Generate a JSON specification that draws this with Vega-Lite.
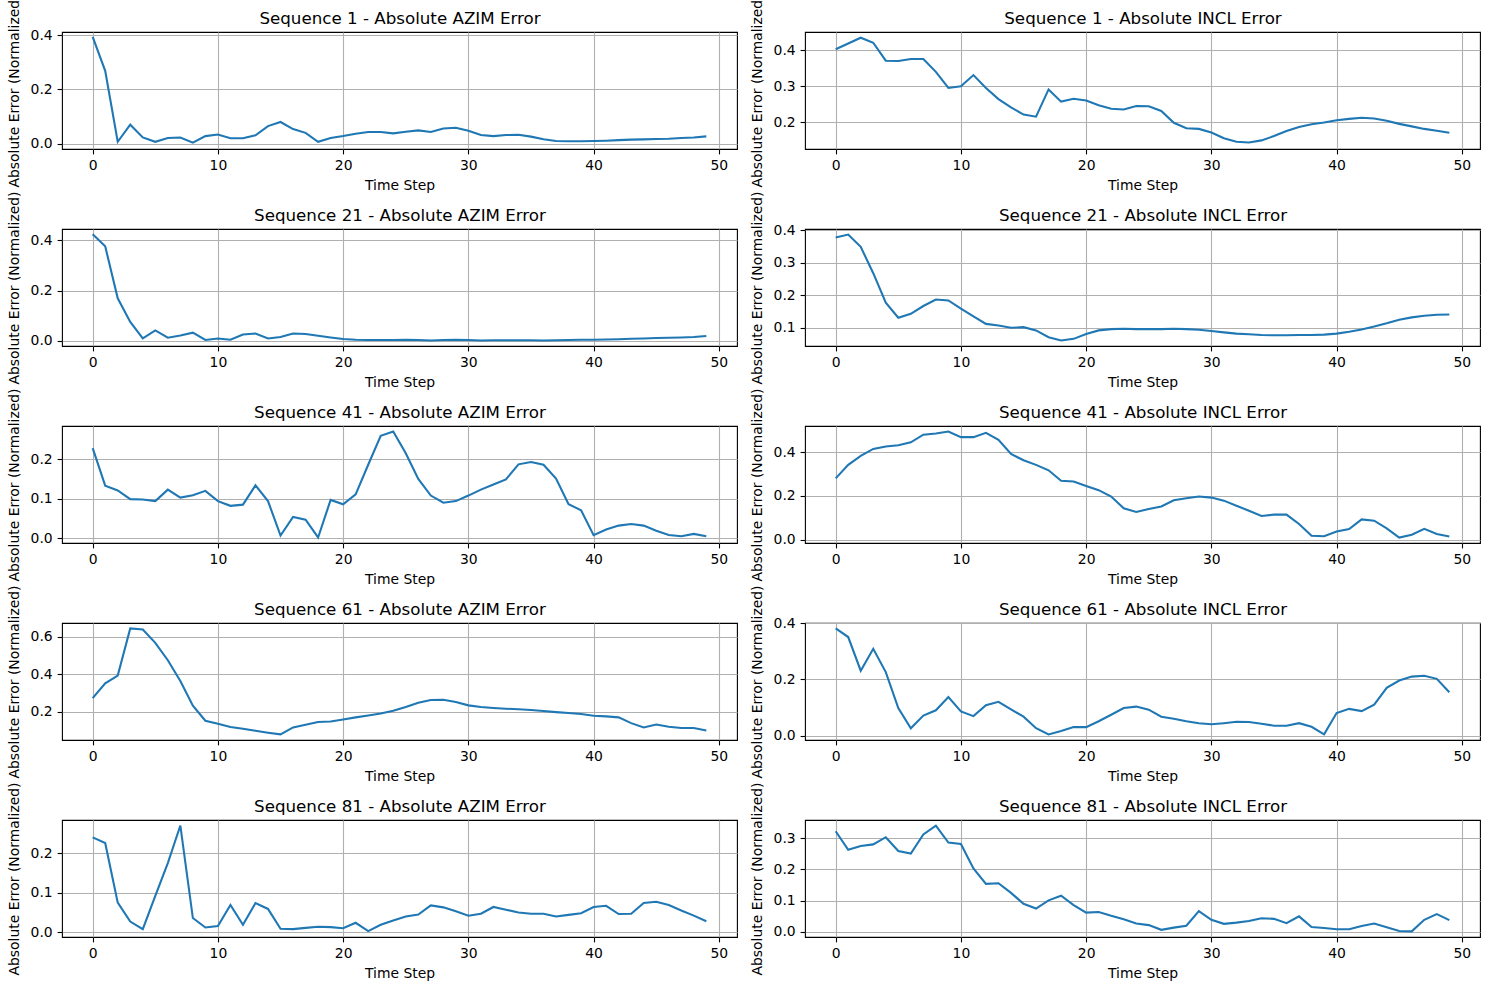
{
"$schema": "https://vega.github.io/schema/vega-lite/v6.json",
"background": "white",
"padding": {"left": 6, "top": -7, "right": 2, "bottom": 2},
"columns": 2,
"spacing": {"row": 80, "column": 68},
"bounds": "flush",
"config": {
 "font": "DejaVu Sans",
 "view": {"stroke": "#000000", "strokeWidth": 1.1},
 "axis": {"labelFont": "DejaVu Sans", "titleFont": "DejaVu Sans", "labelFontSize": 13.9, "titleFontSize": 13.9, "labelColor": "#000000", "titleColor": "#000000", "titleFontWeight": "normal", "tickColor": "#000000", "tickWidth": 1.1, "tickSize": 4.9, "labelPadding": 4.9, "gridColor": "#b0b0b0", "gridWidth": 1.1, "gridOpacity": 1, "domain": false, "minExtent": 0, "labelFlush": false, "labelOverlap": false}
},
"datasets": {
"a1": [{"t":0,"v":0.394},{"t":1,"v":0.269},{"t":2,"v":0.007},{"t":3,"v":0.070},{"t":4,"v":0.023},{"t":5,"v":0.007},{"t":6,"v":0.021},{"t":7,"v":0.023},{"t":8,"v":0.004},{"t":9,"v":0.028},{"t":10,"v":0.034},{"t":11,"v":0.020},{"t":12,"v":0.020},{"t":13,"v":0.031},{"t":14,"v":0.065},{"t":15,"v":0.080},{"t":16,"v":0.054},{"t":17,"v":0.040},{"t":18,"v":0.007},{"t":19,"v":0.021},{"t":20,"v":0.028},{"t":21,"v":0.037},{"t":22,"v":0.043},{"t":23,"v":0.043},{"t":24,"v":0.038},{"t":25,"v":0.044},{"t":26,"v":0.049},{"t":27,"v":0.043},{"t":28,"v":0.056},{"t":29,"v":0.059},{"t":30,"v":0.048},{"t":31,"v":0.032},{"t":32,"v":0.028},{"t":33,"v":0.032},{"t":34,"v":0.033},{"t":35,"v":0.026},{"t":36,"v":0.016},{"t":37,"v":0.010},{"t":38,"v":0.009},{"t":39,"v":0.009},{"t":40,"v":0.010},{"t":41,"v":0.011},{"t":42,"v":0.013},{"t":43,"v":0.015},{"t":44,"v":0.016},{"t":45,"v":0.017},{"t":46,"v":0.018},{"t":47,"v":0.021},{"t":48,"v":0.023},{"t":49,"v":0.027}],
"i1": [{"t":0,"v":0.403},{"t":1,"v":0.419},{"t":2,"v":0.435},{"t":3,"v":0.421},{"t":4,"v":0.371},{"t":5,"v":0.370},{"t":6,"v":0.376},{"t":7,"v":0.376},{"t":8,"v":0.340},{"t":9,"v":0.295},{"t":10,"v":0.300},{"t":11,"v":0.331},{"t":12,"v":0.295},{"t":13,"v":0.264},{"t":14,"v":0.241},{"t":15,"v":0.221},{"t":16,"v":0.215},{"t":17,"v":0.291},{"t":18,"v":0.257},{"t":19,"v":0.265},{"t":20,"v":0.260},{"t":21,"v":0.247},{"t":22,"v":0.237},{"t":23,"v":0.235},{"t":24,"v":0.245},{"t":25,"v":0.244},{"t":26,"v":0.231},{"t":27,"v":0.198},{"t":28,"v":0.183},{"t":29,"v":0.181},{"t":30,"v":0.171},{"t":31,"v":0.155},{"t":32,"v":0.145},{"t":33,"v":0.143},{"t":34,"v":0.149},{"t":35,"v":0.161},{"t":36,"v":0.175},{"t":37,"v":0.186},{"t":38,"v":0.194},{"t":39,"v":0.199},{"t":40,"v":0.205},{"t":41,"v":0.209},{"t":42,"v":0.212},{"t":43,"v":0.210},{"t":44,"v":0.204},{"t":45,"v":0.195},{"t":46,"v":0.188},{"t":47,"v":0.181},{"t":48,"v":0.176},{"t":49,"v":0.170}],
"a21": [{"t":0,"v":0.424},{"t":1,"v":0.376},{"t":2,"v":0.169},{"t":3,"v":0.075},{"t":4,"v":0.009},{"t":5,"v":0.041},{"t":6,"v":0.012},{"t":7,"v":0.021},{"t":8,"v":0.032},{"t":9,"v":0.003},{"t":10,"v":0.009},{"t":11,"v":0.004},{"t":12,"v":0.025},{"t":13,"v":0.029},{"t":14,"v":0.009},{"t":15,"v":0.015},{"t":16,"v":0.029},{"t":17,"v":0.027},{"t":18,"v":0.020},{"t":19,"v":0.013},{"t":20,"v":0.007},{"t":21,"v":0.004},{"t":22,"v":0.003},{"t":23,"v":0.003},{"t":24,"v":0.003},{"t":25,"v":0.004},{"t":26,"v":0.003},{"t":27,"v":0.001},{"t":28,"v":0.003},{"t":29,"v":0.004},{"t":30,"v":0.003},{"t":31,"v":0.001},{"t":32,"v":0.002},{"t":33,"v":0.002},{"t":34,"v":0.002},{"t":35,"v":0.002},{"t":36,"v":0.001},{"t":37,"v":0.002},{"t":38,"v":0.003},{"t":39,"v":0.004},{"t":40,"v":0.004},{"t":41,"v":0.005},{"t":42,"v":0.006},{"t":43,"v":0.008},{"t":44,"v":0.009},{"t":45,"v":0.011},{"t":46,"v":0.012},{"t":47,"v":0.013},{"t":48,"v":0.015},{"t":49,"v":0.019}],
"i21": [{"t":0,"v":0.378},{"t":1,"v":0.387},{"t":2,"v":0.349},{"t":3,"v":0.268},{"t":4,"v":0.177},{"t":5,"v":0.131},{"t":6,"v":0.143},{"t":7,"v":0.167},{"t":8,"v":0.187},{"t":9,"v":0.184},{"t":10,"v":0.159},{"t":11,"v":0.135},{"t":12,"v":0.112},{"t":13,"v":0.107},{"t":14,"v":0.100},{"t":15,"v":0.102},{"t":16,"v":0.092},{"t":17,"v":0.071},{"t":18,"v":0.061},{"t":19,"v":0.066},{"t":20,"v":0.081},{"t":21,"v":0.092},{"t":22,"v":0.096},{"t":23,"v":0.097},{"t":24,"v":0.096},{"t":25,"v":0.096},{"t":26,"v":0.096},{"t":27,"v":0.097},{"t":28,"v":0.096},{"t":29,"v":0.094},{"t":30,"v":0.090},{"t":31,"v":0.086},{"t":32,"v":0.082},{"t":33,"v":0.080},{"t":34,"v":0.078},{"t":35,"v":0.077},{"t":36,"v":0.077},{"t":37,"v":0.078},{"t":38,"v":0.078},{"t":39,"v":0.079},{"t":40,"v":0.082},{"t":41,"v":0.088},{"t":42,"v":0.095},{"t":43,"v":0.104},{"t":44,"v":0.114},{"t":45,"v":0.125},{"t":46,"v":0.132},{"t":47,"v":0.137},{"t":48,"v":0.140},{"t":49,"v":0.141}],
"a41": [{"t":0,"v":0.228},{"t":1,"v":0.133},{"t":2,"v":0.121},{"t":3,"v":0.099},{"t":4,"v":0.098},{"t":5,"v":0.094},{"t":6,"v":0.123},{"t":7,"v":0.103},{"t":8,"v":0.109},{"t":9,"v":0.120},{"t":10,"v":0.094},{"t":11,"v":0.082},{"t":12,"v":0.085},{"t":13,"v":0.134},{"t":14,"v":0.094},{"t":15,"v":0.007},{"t":16,"v":0.054},{"t":17,"v":0.047},{"t":18,"v":0.002},{"t":19,"v":0.097},{"t":20,"v":0.086},{"t":21,"v":0.111},{"t":22,"v":0.186},{"t":23,"v":0.259},{"t":24,"v":0.270},{"t":25,"v":0.215},{"t":26,"v":0.150},{"t":27,"v":0.108},{"t":28,"v":0.090},{"t":29,"v":0.094},{"t":30,"v":0.108},{"t":31,"v":0.123},{"t":32,"v":0.136},{"t":33,"v":0.149},{"t":34,"v":0.187},{"t":35,"v":0.193},{"t":36,"v":0.186},{"t":37,"v":0.151},{"t":38,"v":0.086},{"t":39,"v":0.071},{"t":40,"v":0.008},{"t":41,"v":0.022},{"t":42,"v":0.032},{"t":43,"v":0.036},{"t":44,"v":0.032},{"t":45,"v":0.019},{"t":46,"v":0.008},{"t":47,"v":0.005},{"t":48,"v":0.011},{"t":49,"v":0.005}],
"i41": [{"t":0,"v":0.280},{"t":1,"v":0.342},{"t":2,"v":0.383},{"t":3,"v":0.415},{"t":4,"v":0.426},{"t":5,"v":0.432},{"t":6,"v":0.445},{"t":7,"v":0.480},{"t":8,"v":0.486},{"t":9,"v":0.495},{"t":10,"v":0.469},{"t":11,"v":0.469},{"t":12,"v":0.489},{"t":13,"v":0.457},{"t":14,"v":0.392},{"t":15,"v":0.363},{"t":16,"v":0.342},{"t":17,"v":0.317},{"t":18,"v":0.269},{"t":19,"v":0.266},{"t":20,"v":0.245},{"t":21,"v":0.226},{"t":22,"v":0.197},{"t":23,"v":0.143},{"t":24,"v":0.126},{"t":25,"v":0.140},{"t":26,"v":0.151},{"t":27,"v":0.180},{"t":28,"v":0.189},{"t":29,"v":0.197},{"t":30,"v":0.192},{"t":31,"v":0.178},{"t":32,"v":0.155},{"t":33,"v":0.132},{"t":34,"v":0.108},{"t":35,"v":0.114},{"t":36,"v":0.114},{"t":37,"v":0.071},{"t":38,"v":0.017},{"t":39,"v":0.015},{"t":40,"v":0.037},{"t":41,"v":0.048},{"t":42,"v":0.092},{"t":43,"v":0.086},{"t":44,"v":0.051},{"t":45,"v":0.009},{"t":46,"v":0.022},{"t":47,"v":0.049},{"t":48,"v":0.025},{"t":49,"v":0.014}],
"a61": [{"t":0,"v":0.273},{"t":1,"v":0.352},{"t":2,"v":0.393},{"t":3,"v":0.645},{"t":4,"v":0.639},{"t":5,"v":0.568},{"t":6,"v":0.475},{"t":7,"v":0.364},{"t":8,"v":0.232},{"t":9,"v":0.152},{"t":10,"v":0.136},{"t":11,"v":0.118},{"t":12,"v":0.109},{"t":13,"v":0.098},{"t":14,"v":0.088},{"t":15,"v":0.079},{"t":16,"v":0.116},{"t":17,"v":0.130},{"t":18,"v":0.145},{"t":19,"v":0.148},{"t":20,"v":0.159},{"t":21,"v":0.170},{"t":22,"v":0.180},{"t":23,"v":0.191},{"t":24,"v":0.205},{"t":25,"v":0.225},{"t":26,"v":0.248},{"t":27,"v":0.263},{"t":28,"v":0.264},{"t":29,"v":0.252},{"t":30,"v":0.234},{"t":31,"v":0.225},{"t":32,"v":0.220},{"t":33,"v":0.216},{"t":34,"v":0.213},{"t":35,"v":0.209},{"t":36,"v":0.204},{"t":37,"v":0.198},{"t":38,"v":0.193},{"t":39,"v":0.188},{"t":40,"v":0.179},{"t":41,"v":0.175},{"t":42,"v":0.170},{"t":43,"v":0.139},{"t":44,"v":0.116},{"t":45,"v":0.132},{"t":46,"v":0.120},{"t":47,"v":0.113},{"t":48,"v":0.113},{"t":49,"v":0.100}],
"i61": [{"t":0,"v":0.382},{"t":1,"v":0.351},{"t":2,"v":0.231},{"t":3,"v":0.309},{"t":4,"v":0.226},{"t":5,"v":0.098},{"t":6,"v":0.026},{"t":7,"v":0.071},{"t":8,"v":0.090},{"t":9,"v":0.137},{"t":10,"v":0.086},{"t":11,"v":0.069},{"t":12,"v":0.108},{"t":13,"v":0.120},{"t":14,"v":0.093},{"t":15,"v":0.067},{"t":16,"v":0.026},{"t":17,"v":0.004},{"t":18,"v":0.016},{"t":19,"v":0.030},{"t":20,"v":0.030},{"t":21,"v":0.051},{"t":22,"v":0.074},{"t":23,"v":0.098},{"t":24,"v":0.103},{"t":25,"v":0.092},{"t":26,"v":0.067},{"t":27,"v":0.060},{"t":28,"v":0.051},{"t":29,"v":0.044},{"t":30,"v":0.040},{"t":31,"v":0.044},{"t":32,"v":0.049},{"t":33,"v":0.048},{"t":34,"v":0.042},{"t":35,"v":0.035},{"t":36,"v":0.035},{"t":37,"v":0.044},{"t":38,"v":0.031},{"t":39,"v":0.004},{"t":40,"v":0.080},{"t":41,"v":0.095},{"t":42,"v":0.087},{"t":43,"v":0.110},{"t":44,"v":0.170},{"t":45,"v":0.196},{"t":46,"v":0.210},{"t":47,"v":0.213},{"t":48,"v":0.202},{"t":49,"v":0.154}],
"a81": [{"t":0,"v":0.240},{"t":1,"v":0.226},{"t":2,"v":0.075},{"t":3,"v":0.027},{"t":4,"v":0.008},{"t":5,"v":0.092},{"t":6,"v":0.175},{"t":7,"v":0.270},{"t":8,"v":0.036},{"t":9,"v":0.012},{"t":10,"v":0.016},{"t":11,"v":0.069},{"t":12,"v":0.019},{"t":13,"v":0.074},{"t":14,"v":0.059},{"t":15,"v":0.009},{"t":16,"v":0.008},{"t":17,"v":0.011},{"t":18,"v":0.014},{"t":19,"v":0.013},{"t":20,"v":0.010},{"t":21,"v":0.024},{"t":22,"v":0.003},{"t":23,"v":0.019},{"t":24,"v":0.030},{"t":25,"v":0.040},{"t":26,"v":0.045},{"t":27,"v":0.068},{"t":28,"v":0.063},{"t":29,"v":0.053},{"t":30,"v":0.042},{"t":31,"v":0.047},{"t":32,"v":0.064},{"t":33,"v":0.057},{"t":34,"v":0.050},{"t":35,"v":0.047},{"t":36,"v":0.047},{"t":37,"v":0.040},{"t":38,"v":0.044},{"t":39,"v":0.048},{"t":40,"v":0.064},{"t":41,"v":0.067},{"t":42,"v":0.046},{"t":43,"v":0.047},{"t":44,"v":0.074},{"t":45,"v":0.077},{"t":46,"v":0.069},{"t":47,"v":0.055},{"t":48,"v":0.042},{"t":49,"v":0.028}],
"i81": [{"t":0,"v":0.322},{"t":1,"v":0.263},{"t":2,"v":0.275},{"t":3,"v":0.280},{"t":4,"v":0.303},{"t":5,"v":0.259},{"t":6,"v":0.251},{"t":7,"v":0.312},{"t":8,"v":0.340},{"t":9,"v":0.286},{"t":10,"v":0.281},{"t":11,"v":0.203},{"t":12,"v":0.154},{"t":13,"v":0.156},{"t":14,"v":0.125},{"t":15,"v":0.090},{"t":16,"v":0.075},{"t":17,"v":0.101},{"t":18,"v":0.116},{"t":19,"v":0.086},{"t":20,"v":0.062},{"t":21,"v":0.064},{"t":22,"v":0.052},{"t":23,"v":0.041},{"t":24,"v":0.027},{"t":25,"v":0.022},{"t":26,"v":0.007},{"t":27,"v":0.014},{"t":28,"v":0.020},{"t":29,"v":0.067},{"t":30,"v":0.039},{"t":31,"v":0.026},{"t":32,"v":0.030},{"t":33,"v":0.035},{"t":34,"v":0.044},{"t":35,"v":0.042},{"t":36,"v":0.028},{"t":37,"v":0.050},{"t":38,"v":0.016},{"t":39,"v":0.013},{"t":40,"v":0.009},{"t":41,"v":0.009},{"t":42,"v":0.019},{"t":43,"v":0.027},{"t":44,"v":0.015},{"t":45,"v":0.003},{"t":46,"v":0.002},{"t":47,"v":0.039},{"t":48,"v":0.057},{"t":49,"v":0.038}]
},
"concat": [
{"data": {"name": "a1"}, "width": 675, "height": 117, "resolve": {"axis": {"x": "independent"}}, "layer": [
 {"mark": {"type": "line", "color": "#1f77b4", "strokeWidth": 2.08}, "encoding": {"x": {"field": "t", "type": "quantitative", "scale": {"domain": [-2.45, 51.45], "nice": false, "zero": false}, "axis": {"title": "Time Step", "values": [0,10,20,30,40,50], "titlePadding": 5.6}}, "y": {"field": "v", "type": "quantitative", "scale": {"domain": [-0.0196, 0.412], "nice": false, "zero": false}, "axis": {"title": "Absolute Error (Normalized)", "values": [0,0.2,0.4], "format": ".1f", "titlePadding": 9}}}},
 {"mark": {"type": "rule", "strokeOpacity": 0}, "encoding": {"x": {"field": "t", "type": "quantitative", "axis": {"orient": "top", "title": "Sequence 1 - Absolute AZIM Error", "titleFontSize": 16.7, "titlePadding": 8.3, "titleBaseline": "alphabetic", "labels": false, "ticks": false, "grid": false, "domain": false}}}}
]},
{"data": {"name": "i1"}, "width": 675, "height": 117, "resolve": {"axis": {"x": "independent"}}, "layer": [
 {"mark": {"type": "line", "color": "#1f77b4", "strokeWidth": 2.08}, "encoding": {"x": {"field": "t", "type": "quantitative", "scale": {"domain": [-2.45, 51.45], "nice": false, "zero": false}, "axis": {"title": "Time Step", "values": [0,10,20,30,40,50], "titlePadding": 5.6}}, "y": {"field": "v", "type": "quantitative", "scale": {"domain": [0.125, 0.451], "nice": false, "zero": false}, "axis": {"title": "Absolute Error (Normalized)", "values": [0.2,0.3,0.4], "format": ".1f", "titlePadding": 9}}}},
 {"mark": {"type": "rule", "strokeOpacity": 0}, "encoding": {"x": {"field": "t", "type": "quantitative", "axis": {"orient": "top", "title": "Sequence 1 - Absolute INCL Error", "titleFontSize": 16.7, "titlePadding": 8.3, "titleBaseline": "alphabetic", "labels": false, "ticks": false, "grid": false, "domain": false}}}}
]},
{"data": {"name": "a21"}, "width": 675, "height": 117, "resolve": {"axis": {"x": "independent"}}, "layer": [
 {"mark": {"type": "line", "color": "#1f77b4", "strokeWidth": 2.08}, "encoding": {"x": {"field": "t", "type": "quantitative", "scale": {"domain": [-2.45, 51.45], "nice": false, "zero": false}, "axis": {"title": "Time Step", "values": [0,10,20,30,40,50], "titlePadding": 5.6}}, "y": {"field": "v", "type": "quantitative", "scale": {"domain": [-0.021, 0.445], "nice": false, "zero": false}, "axis": {"title": "Absolute Error (Normalized)", "values": [0,0.2,0.4], "format": ".1f", "titlePadding": 9}}}},
 {"mark": {"type": "rule", "strokeOpacity": 0}, "encoding": {"x": {"field": "t", "type": "quantitative", "axis": {"orient": "top", "title": "Sequence 21 - Absolute AZIM Error", "titleFontSize": 16.7, "titlePadding": 8.3, "titleBaseline": "alphabetic", "labels": false, "ticks": false, "grid": false, "domain": false}}}}
]},
{"data": {"name": "i21"}, "width": 675, "height": 117, "resolve": {"axis": {"x": "independent"}}, "layer": [
 {"mark": {"type": "line", "color": "#1f77b4", "strokeWidth": 2.08}, "encoding": {"x": {"field": "t", "type": "quantitative", "scale": {"domain": [-2.45, 51.45], "nice": false, "zero": false}, "axis": {"title": "Time Step", "values": [0,10,20,30,40,50], "titlePadding": 5.6}}, "y": {"field": "v", "type": "quantitative", "scale": {"domain": [0.044, 0.404], "nice": false, "zero": false}, "axis": {"title": "Absolute Error (Normalized)", "values": [0.1,0.2,0.3,0.4], "format": ".1f", "titlePadding": 9}}}},
 {"mark": {"type": "rule", "strokeOpacity": 0}, "encoding": {"x": {"field": "t", "type": "quantitative", "axis": {"orient": "top", "title": "Sequence 21 - Absolute INCL Error", "titleFontSize": 16.7, "titlePadding": 8.3, "titleBaseline": "alphabetic", "labels": false, "ticks": false, "grid": false, "domain": false}}}}
]},
{"data": {"name": "a41"}, "width": 675, "height": 117, "resolve": {"axis": {"x": "independent"}}, "layer": [
 {"mark": {"type": "line", "color": "#1f77b4", "strokeWidth": 2.08}, "encoding": {"x": {"field": "t", "type": "quantitative", "scale": {"domain": [-2.45, 51.45], "nice": false, "zero": false}, "axis": {"title": "Time Step", "values": [0,10,20,30,40,50], "titlePadding": 5.6}}, "y": {"field": "v", "type": "quantitative", "scale": {"domain": [-0.012, 0.284], "nice": false, "zero": false}, "axis": {"title": "Absolute Error (Normalized)", "values": [0,0.1,0.2], "format": ".1f", "titlePadding": 9}}}},
 {"mark": {"type": "rule", "strokeOpacity": 0}, "encoding": {"x": {"field": "t", "type": "quantitative", "axis": {"orient": "top", "title": "Sequence 41 - Absolute AZIM Error", "titleFontSize": 16.7, "titlePadding": 8.3, "titleBaseline": "alphabetic", "labels": false, "ticks": false, "grid": false, "domain": false}}}}
]},
{"data": {"name": "i41"}, "width": 675, "height": 117, "resolve": {"axis": {"x": "independent"}}, "layer": [
 {"mark": {"type": "line", "color": "#1f77b4", "strokeWidth": 2.08}, "encoding": {"x": {"field": "t", "type": "quantitative", "scale": {"domain": [-2.45, 51.45], "nice": false, "zero": false}, "axis": {"title": "Time Step", "values": [0,10,20,30,40,50], "titlePadding": 5.6}}, "y": {"field": "v", "type": "quantitative", "scale": {"domain": [-0.016, 0.52], "nice": false, "zero": false}, "axis": {"title": "Absolute Error (Normalized)", "values": [0,0.2,0.4], "format": ".1f", "titlePadding": 9}}}},
 {"mark": {"type": "rule", "strokeOpacity": 0}, "encoding": {"x": {"field": "t", "type": "quantitative", "axis": {"orient": "top", "title": "Sequence 41 - Absolute INCL Error", "titleFontSize": 16.7, "titlePadding": 8.3, "titleBaseline": "alphabetic", "labels": false, "ticks": false, "grid": false, "domain": false}}}}
]},
{"data": {"name": "a61"}, "width": 675, "height": 117, "resolve": {"axis": {"x": "independent"}}, "layer": [
 {"mark": {"type": "line", "color": "#1f77b4", "strokeWidth": 2.08}, "encoding": {"x": {"field": "t", "type": "quantitative", "scale": {"domain": [-2.45, 51.45], "nice": false, "zero": false}, "axis": {"title": "Time Step", "values": [0,10,20,30,40,50], "titlePadding": 5.6}}, "y": {"field": "v", "type": "quantitative", "scale": {"domain": [0.049, 0.674], "nice": false, "zero": false}, "axis": {"title": "Absolute Error (Normalized)", "values": [0.2,0.4,0.6], "format": ".1f", "titlePadding": 9}}}},
 {"mark": {"type": "rule", "strokeOpacity": 0}, "encoding": {"x": {"field": "t", "type": "quantitative", "axis": {"orient": "top", "title": "Sequence 61 - Absolute AZIM Error", "titleFontSize": 16.7, "titlePadding": 8.3, "titleBaseline": "alphabetic", "labels": false, "ticks": false, "grid": false, "domain": false}}}}
]},
{"data": {"name": "i61"}, "width": 675, "height": 117, "resolve": {"axis": {"x": "independent"}}, "layer": [
 {"mark": {"type": "line", "color": "#1f77b4", "strokeWidth": 2.08}, "encoding": {"x": {"field": "t", "type": "quantitative", "scale": {"domain": [-2.45, 51.45], "nice": false, "zero": false}, "axis": {"title": "Time Step", "values": [0,10,20,30,40,50], "titlePadding": 5.6}}, "y": {"field": "v", "type": "quantitative", "scale": {"domain": [-0.016, 0.401], "nice": false, "zero": false}, "axis": {"title": "Absolute Error (Normalized)", "values": [0,0.2,0.4], "format": ".1f", "titlePadding": 9}}}},
 {"mark": {"type": "rule", "strokeOpacity": 0}, "encoding": {"x": {"field": "t", "type": "quantitative", "axis": {"orient": "top", "title": "Sequence 61 - Absolute INCL Error", "titleFontSize": 16.7, "titlePadding": 8.3, "titleBaseline": "alphabetic", "labels": false, "ticks": false, "grid": false, "domain": false}}}}
]},
{"data": {"name": "a81"}, "width": 675, "height": 117, "resolve": {"axis": {"x": "independent"}}, "layer": [
 {"mark": {"type": "line", "color": "#1f77b4", "strokeWidth": 2.08}, "encoding": {"x": {"field": "t", "type": "quantitative", "scale": {"domain": [-2.45, 51.45], "nice": false, "zero": false}, "axis": {"title": "Time Step", "values": [0,10,20,30,40,50], "titlePadding": 5.6}}, "y": {"field": "v", "type": "quantitative", "scale": {"domain": [-0.012, 0.284], "nice": false, "zero": false}, "axis": {"title": "Absolute Error (Normalized)", "values": [0,0.1,0.2], "format": ".1f", "titlePadding": 9}}}},
 {"mark": {"type": "rule", "strokeOpacity": 0}, "encoding": {"x": {"field": "t", "type": "quantitative", "axis": {"orient": "top", "title": "Sequence 81 - Absolute AZIM Error", "titleFontSize": 16.7, "titlePadding": 8.3, "titleBaseline": "alphabetic", "labels": false, "ticks": false, "grid": false, "domain": false}}}}
]},
{"data": {"name": "i81"}, "width": 675, "height": 117, "resolve": {"axis": {"x": "independent"}}, "layer": [
 {"mark": {"type": "line", "color": "#1f77b4", "strokeWidth": 2.08}, "encoding": {"x": {"field": "t", "type": "quantitative", "scale": {"domain": [-2.45, 51.45], "nice": false, "zero": false}, "axis": {"title": "Time Step", "values": [0,10,20,30,40,50], "titlePadding": 5.6}}, "y": {"field": "v", "type": "quantitative", "scale": {"domain": [-0.016, 0.358], "nice": false, "zero": false}, "axis": {"title": "Absolute Error (Normalized)", "values": [0,0.1,0.2,0.3], "format": ".1f", "titlePadding": 9}}}},
 {"mark": {"type": "rule", "strokeOpacity": 0}, "encoding": {"x": {"field": "t", "type": "quantitative", "axis": {"orient": "top", "title": "Sequence 81 - Absolute INCL Error", "titleFontSize": 16.7, "titlePadding": 8.3, "titleBaseline": "alphabetic", "labels": false, "ticks": false, "grid": false, "domain": false}}}}
]}
]
}
